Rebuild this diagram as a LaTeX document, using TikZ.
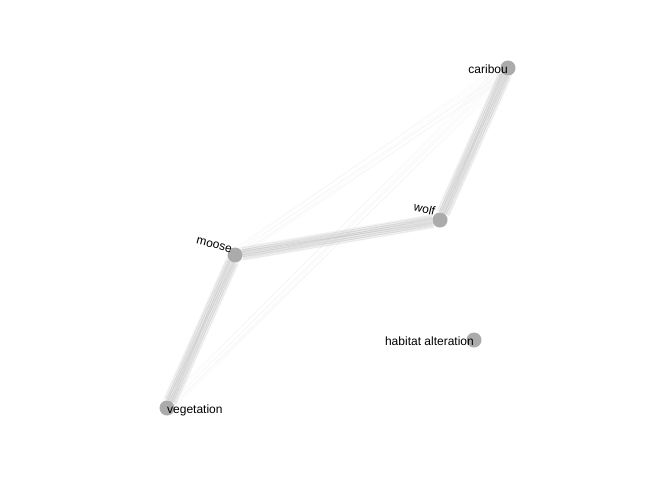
\documentclass[tikz,border=0pt]{standalone}
\usepackage{fontspec}
\setmainfont{Liberation Sans}
\usetikzlibrary{calc,backgrounds}
\tikzset{
  vert/.style={circle,fill=black!33,draw=none,minimum size=15pt,inner sep=0pt},
  lbl/.style={font=\fontsize{12}{14}\selectfont,text=black,inner sep=0pt},
  bundle/.style={draw=black!45,line width=0.5pt,opacity=0.14},
  bundlewide/.style={draw=black!25,line width=14pt,opacity=0.16},
  bundlebase/.style={draw=black!25,line width=9pt,opacity=0.22},
  faint/.style={draw=black!30,line width=0.5pt,opacity=0.09},
}
\begin{document}
\begin{tikzpicture}[x=1pt,y=-1pt]
\useasboundingbox (0,0) rectangle (672,480);
\node[vert] (caribou) at (508,68) {};
\node[vert] (wolf) at (440,220) {};
\node[vert] (moose) at (235,255) {};
\node[vert] (vegetation) at (167,408) {};
\node[vert] (habitat) at (474,340) {};
\begin{pgfonlayer}{background}
  \fill[white] (0,0) rectangle (672,480);
  \foreach \a/\b in {caribou/wolf,wolf/moose,moose/vegetation}{
    \draw[bundlewide] (\a) -- (\b);
    \draw[bundlebase] (\a) -- (\b);
    \foreach \o/\p in {-6/-4,-5/-6,-4/-2,-3/-4,-2/0,-1/-2,0/1,1/-1,2/3,3/1,4/5,5/3,6/6,-3/2,2/-3}{
      \draw[bundle] ($(\a)!\o pt!90:(\b)$) -- ($(\b)!\p pt!-90:(\a)$);
    }
  }
  \foreach \a/\b in {caribou/moose,caribou/vegetation}{
    \foreach \o/\p in {-7/-4,-4/-6,-2/0,0/3,2/-2,4/5,7/2}{
      \draw[faint] ($(\a)!\o pt!90:(\b)$) -- ($(\b)!\p pt!-90:(\a)$);
    }
  }
\end{pgfonlayer}
\node[lbl,anchor=east] (lcaribou) at ($(caribou)+(0,1.5)$) {caribou};
\node[lbl,anchor=south east,rotate=-14] (lwolf) at ($(wolf)+(-6,-4)$) {wolf};
\node[lbl,anchor=south east,rotate=-14] (lmoose) at ($(moose)+(-4,-2)$) {moose};
\node[lbl,anchor=west] (lveg) at ($(vegetation)+(0,2)$) {vegetation};
\node[lbl,anchor=east] (lhab) at ($(habitat)+(0,1.5)$) {habitat alteration};
\end{tikzpicture}
\end{document}
